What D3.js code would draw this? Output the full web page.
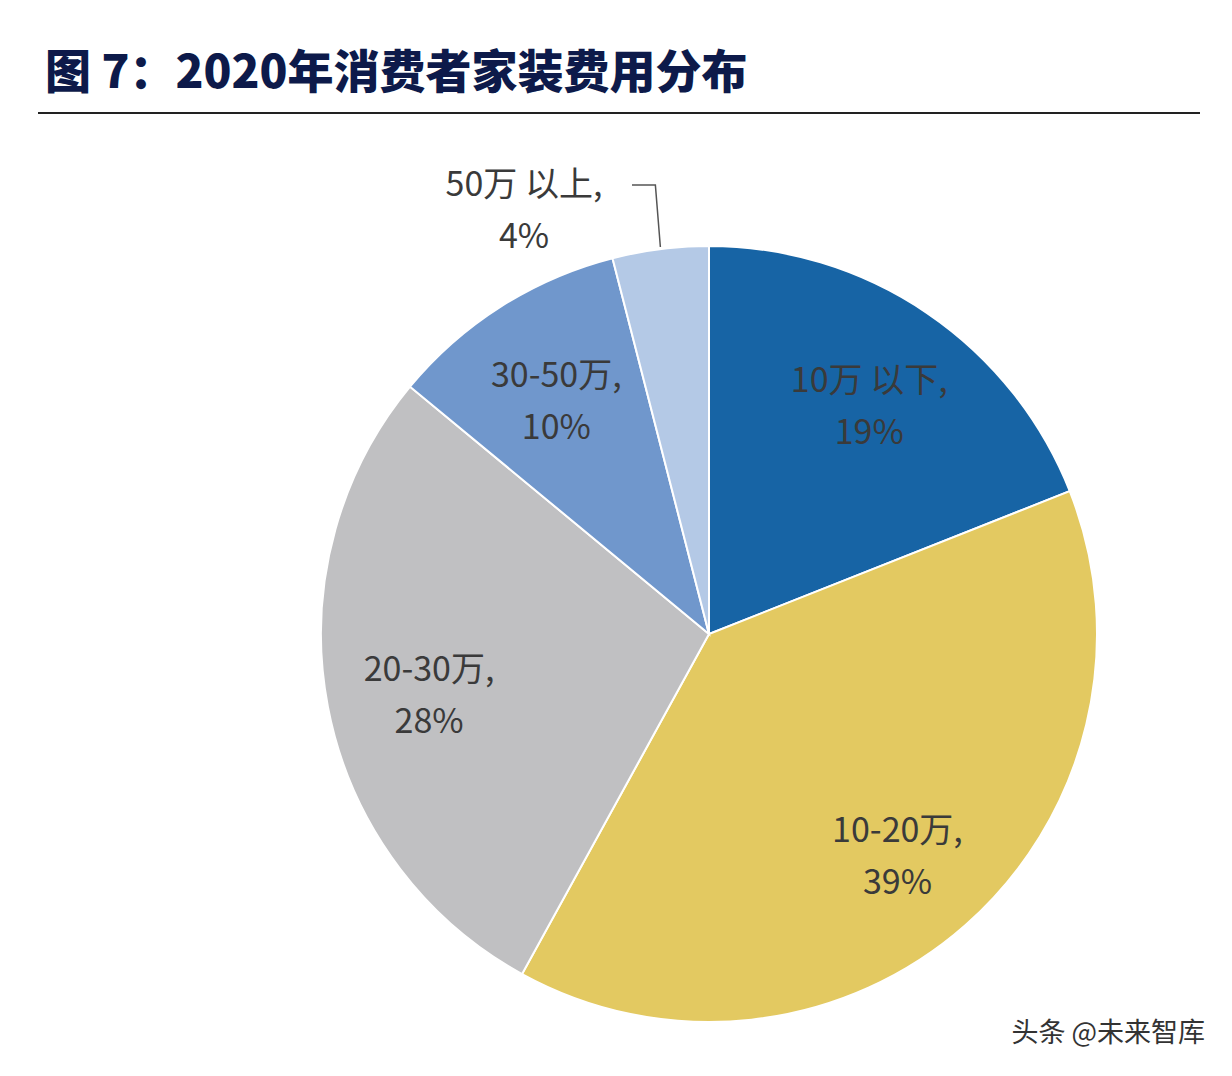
<!DOCTYPE html>
<html><head><meta charset="utf-8">
<script src="https://cdn.jsdelivr.net/npm/d3@7"></script>
<style>body{margin:0;background:#fff}</style></head>
<body><svg id="chart" width="1232" height="1076"></svg>
<script>
const categories = ["10万 以下", "10-20万", "20-30万", "30-50万", "50万 以上"];
const shares = [19, 39, 28, 10, 4];
const colors = ["#1764a5", "#e3c961", "#c0c0c2", "#7097cc", "#b4c9e6"];

const svg = d3.select("#chart");
const cx = 709, cy = 634, radius = 388;
const font = "'Noto Sans CJK SC', 'Noto Sans', sans-serif";

// title
svg.append("text").attr("x", 45).attr("y", 88)
  .attr("font-family", font).attr("font-weight", 900).attr("font-size", 46)
  .attr("fill", "#0d1a4a").text("图 7：2020年消费者家装费用分布");
svg.append("line").attr("x1", 38).attr("x2", 1200).attr("y1", 113).attr("y2", 113)
  .attr("stroke", "#222").attr("stroke-width", 2);

const pie = d3.pie().sort(null).value(d => d.v);
const arcs = pie(categories.map((c, i) => ({c, v: shares[i], color: colors[i]})));
const arc = d3.arc().innerRadius(0).outerRadius(radius);
const labelArc = d3.arc().innerRadius(285).outerRadius(285);

const g = svg.append("g").attr("transform", `translate(${cx},${cy})`);
g.selectAll("path").data(arcs).enter().append("path")
  .attr("d", arc).attr("fill", d => d.data.color)
  .attr("stroke", "#fff").attr("stroke-width", 2);

arcs.forEach((d, i) => {
  let [x, y] = labelArc.centroid(d);
  const small = d.data.v < 5;
  if (small) {
    // outside label with leader line
    const edge = d3.arc().innerRadius(radius).outerRadius(radius).centroid(d);
    x = -185; y = -432;
    g.append("polyline")
      .attr("points", [[x + 108, y - 17], [edge[0] - 5, y - 17], [edge[0], edge[1] - 2]].join(" "))
      .attr("fill", "none").attr("stroke", "#555").attr("stroke-width", 1.5);
  }
  const t = g.append("text").attr("text-anchor", "middle")
    .attr("font-family", font).attr("font-size", 34).attr("fill", "#3a3a3a");
  t.append("tspan").attr("x", x).attr("y", y - 6).text(d.data.c + ",");
  t.append("tspan").attr("x", x).attr("y", y + 46).text(d.data.v + "%");
});

svg.append("text").attr("x", 1205).attr("y", 1042).attr("text-anchor", "end")
  .attr("font-family", font).attr("font-size", 27).attr("fill", "#333")
  .text("头条 @未来智库");
</script></body></html>
